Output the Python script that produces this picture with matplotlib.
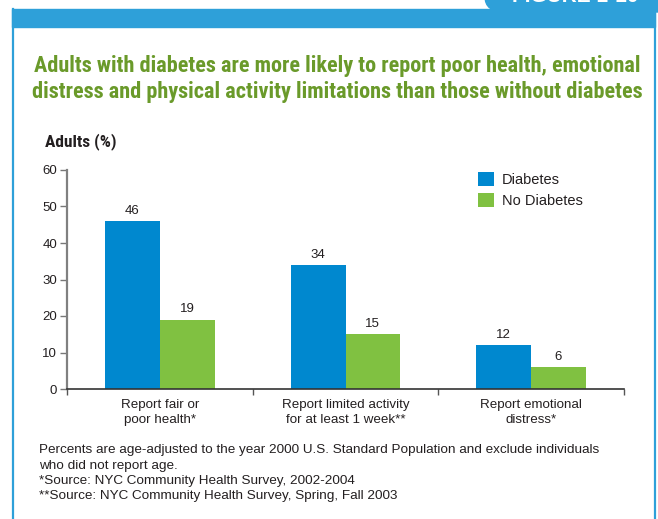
import matplotlib
matplotlib.use('Agg')
import matplotlib.pyplot as plt
from matplotlib.patches import Rectangle, FancyBboxPatch
import numpy as np

plt.rcParams['font.family'] = ['Liberation Sans', 'DejaVu Sans']

categories = ['Report fair or\npoor health*', 'Report limited activity\nfor at least 1 week**',
              'Report emotional\ndistress*']
diabetes = [46, 34, 12]
no_diabetes = [19, 15, 6]
yticks = [0, 10, 20, 30, 40, 50, 60]

blue = '#0088cf'
green = '#80c141'
frame_blue = '#2ea0d9'
title_green = '#6a9a2a'
txt = '#231f20'

W, H = 658, 519
fig = plt.figure(figsize=(W / 100, H / 100), dpi=100)

def fx(px):
    return px / W

def fy(py):
    return 1 - py / H

# frame: top band, side lines, tab
fig.patches.append(Rectangle((fx(12), fy(27)), fx(655) - fx(12), fy(9) - fy(27),
                             transform=fig.transFigure, color=frame_blue, zorder=0))
fig.patches.append(FancyBboxPatch((fx(485), fy(12)), fx(700) - fx(485), fy(-20) - fy(12),
                                  boxstyle='round,pad=0,rounding_size=0.03',
                                  transform=fig.transFigure, color=frame_blue, zorder=0))
fig.lines.append(plt.Line2D([fx(12.5), fx(12.5)], [0, fy(9)], transform=fig.transFigure,
                            color=frame_blue, lw=1.6))
fig.lines.append(plt.Line2D([fx(654.5), fx(654.5)], [0, fy(9)], transform=fig.transFigure,
                            color=frame_blue, lw=1.6))
fig.text(fx(512), fy(2.5), 'FIGURE 1-10', color='white', fontsize=15, fontweight='bold',
         ha='left', va='baseline')

# title
cond = ['Roboto Condensed', 'Archivo Narrow', 'Barlow Semi Condensed', 'Liberation Sans']
fig.text(fx(337), fy(66), 'Adults with diabetes are more likely to report poor health, emotional',
         ha='center', va='center', color=title_green, fontsize=16, fontweight='bold', family=cond)
fig.text(fx(337), fy(92), 'distress and physical activity limitations than those without diabetes',
         ha='center', va='center', color=title_green, fontsize=16, fontweight='bold', family=cond)

ax = fig.add_axes([fx(67), fy(389), fx(624) - fx(67), fy(170) - fy(389)])
x = np.arange(len(categories))
w = 0.295
b1 = ax.bar(x - w / 2, diabetes, w, color=blue, label='Diabetes')
b2 = ax.bar(x + w / 2, no_diabetes, w, color=green, label='No Diabetes')
for bars, vals in [(b1, diabetes), (b2, no_diabetes)]:
    for r, v in zip(bars, vals):
        ax.annotate(str(v), (r.get_x() + r.get_width() / 2, v), xytext=(0, 3),
                    textcoords='offset points', ha='center', va='bottom', fontsize=9.5, color=txt)

ax.set_xlim(-0.5, 2.5)
ax.set_ylim(0, 60)
ax.set_yticks(yticks)
ax.set_yticklabels([str(t) for t in yticks])
ax.set_xticks([-0.5, 0.5, 1.5, 2.5])
ax.set_xticklabels([])
ax.set_xticks(x, categories, minor=True)
for lab in ax.get_xticklabels(minor=True):
    lab.set_linespacing(1.4)
ax.tick_params(axis='x', which='major', direction='out', length=4, width=1, color='#555555')
ax.tick_params(axis='x', which='minor', length=0, pad=7, labelsize=9.6, labelcolor=txt)
ax.tick_params(axis='y', direction='out', length=5, width=1, color='#777777',
               labelsize=9.5, labelcolor=txt, pad=2)
for s in ['top', 'right']:
    ax.spines[s].set_visible(False)
ax.spines['left'].set_color('#808080')
ax.spines['left'].set_linewidth(1.6)
ax.spines['bottom'].set_color('#333333')
ax.spines['bottom'].set_linewidth(1.2)

fig.text(fx(45), fy(142), 'Adults (%)', ha='left', va='center', fontsize=12.5,
         fontweight='bold', color=txt, family=cond)

fig.legend(handles=[b1, b2], loc='upper left', bbox_to_anchor=(fx(465), fy(159)),
           frameon=False, fontsize=10.5, handlelength=1.1, handleheight=1.1,
           handletextpad=0.55, labelspacing=0.4, labelcolor=txt)

notes = ['Percents are age-adjusted to the year 2000 U.S. Standard Population and exclude individuals',
         'who did not report age.',
         '*Source: NYC Community Health Survey, 2002-2004',
         '**Source: NYC Community Health Survey, Spring, Fall 2003']
for i, n in enumerate(notes):
    fig.text(fx(39), fy(450 + 15.5 * i), n, ha='left', va='center', fontsize=9.7, color=txt)

fig.savefig('out.png', dpi=100)
